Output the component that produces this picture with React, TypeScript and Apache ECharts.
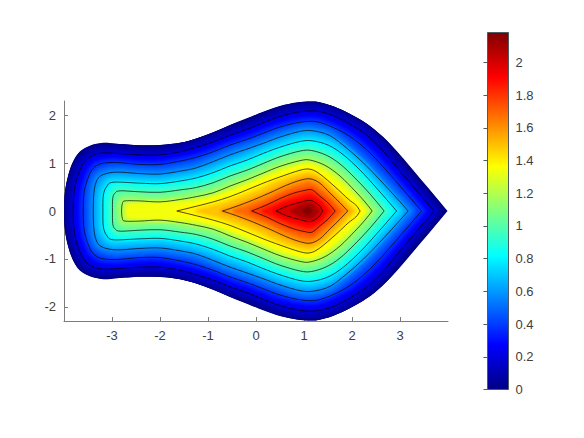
import React, { useEffect, useRef } from "react";
import * as echarts from "echarts";

const X_TICKS = [-3, -2, -1, 0, 1, 2, 3];
const Y_TICKS = [-2, -1, 0, 1, 2];
const BAR_TICKS = [0, 0.2, 0.4, 0.6, 0.8, 1, 1.2, 1.4, 1.6, 1.8, 2];
const FIELD_MAX = 2.183;
const JET_OFFSETS = [0, 0.125, 0.375, 0.625, 0.875, 1];
const JET_COLORS = [
  [0, 0, 132],
  [0, 0, 255],
  [0, 255, 255],
  [255, 255, 0],
  [255, 0, 0],
  [128, 0, 0],
];

// Upper halves of the contours; the domain is symmetric about y = 0.
const BOUNDARY = [[-4, 0], [-3.98, 0.4], [-3.91, 0.75], [-3.81, 1.03], [-3.67, 1.24], [-3.46, 1.36], [-3.18, 1.42], [-2.9, 1.4], [-2.42, 1.37], [-2.0, 1.375], [-1.58, 1.42], [-1.24, 1.51], [-0.89, 1.64], [-0.54, 1.79], [-0.19, 1.93], [0.15, 2.07], [0.5, 2.19], [0.85, 2.26], [1.13, 2.28], [1.3, 2.27], [1.61, 2.18], [1.96, 2.02], [2.31, 1.82], [2.65, 1.54], [3.0, 1.17], [3.35, 0.76], [3.69, 0.36], [3.99, 0]];
const C1 = [[-3.81, 0], [-3.79, 0.4], [-3.72, 0.71], [-3.6, 0.99], [-3.42, 1.15], [-3.21, 1.21], [-2.9, 1.2], [-2.42, 1.17], [-2, 1.17], [-1.58, 1.235], [-1.24, 1.33], [-0.89, 1.44], [-0.54, 1.58], [-0.19, 1.7], [0.15, 1.84], [0.5, 1.97], [0.92, 2.07], [1.26, 2.08], [1.61, 1.99], [1.96, 1.81], [2.31, 1.58], [2.65, 1.25], [3.0, 0.83], [3.35, 0.42], [3.71, 0]];
const C2 = [[-3.6, 0], [-3.58, 0.4], [-3.49, 0.71], [-3.39, 0.89], [-3.21, 0.99], [-2.9, 1.01], [-2.42, 0.97], [-2, 0.97], [-1.58, 1.04], [-1.24, 1.12], [-0.89, 1.235], [-0.54, 1.375], [-0.19, 1.49], [0.15, 1.62], [0.5, 1.75], [0.92, 1.85], [1.26, 1.86], [1.61, 1.74], [1.96, 1.55], [2.31, 1.27], [2.65, 0.92], [3.0, 0.52], [3.45, 0]];
const C3 = [[-3.39, 0], [-3.375, 0.4], [-3.31, 0.65], [-3.18, 0.76], [-2.9, 0.81], [-2.42, 0.78], [-2, 0.77], [-1.58, 0.83], [-1.24, 0.9], [-0.89, 1.03], [-0.54, 1.17], [-0.19, 1.29], [0.15, 1.41], [0.5, 1.54], [0.92, 1.66], [1.19, 1.67], [1.54, 1.57], [1.89, 1.31], [2.24, 1.0], [2.58, 0.65], [2.93, 0.27], [3.17, 0]];
const C4 = [[-3.19, 0], [-3.18, 0.33], [-3.11, 0.51], [-2.97, 0.6], [-2.42, 0.58], [-2, 0.57], [-1.58, 0.625], [-1.24, 0.69], [-0.89, 0.8], [-0.54, 0.94], [-0.19, 1.06], [0.15, 1.2], [0.5, 1.33], [0.92, 1.45], [1.19, 1.46], [1.51, 1.37], [1.82, 1.17], [2.17, 0.85], [2.51, 0.48], [2.93, 0]];
const C5 = [[-2.99, 0], [-2.985, 0.26], [-2.94, 0.37], [-2.83, 0.42], [-2.42, 0.4], [-2, 0.39], [-1.58, 0.44], [-1.24, 0.49], [-0.89, 0.59], [-0.54, 0.73], [-0.19, 0.85], [0.15, 0.99], [0.5, 1.13], [0.92, 1.25], [1.16, 1.26], [1.47, 1.16], [1.75, 0.98], [2.06, 0.69], [2.38, 0.35], [2.67, 0]];
const C6 = [[-2.8, 0], [-2.785, 0.15], [-2.73, 0.21], [-2.42, 0.21], [-2, 0.19], [-1.58, 0.24], [-1.24, 0.3], [-0.89, 0.38], [-0.54, 0.52], [-0.19, 0.65], [0.15, 0.79], [0.5, 0.93], [0.92, 1.05], [1.13, 1.06], [1.44, 0.95], [1.75, 0.73], [2.06, 0.42], [2.27, 0.19], [2.42, 0]];
const MID6 = [[-2.68, 0], [-2.63, 0.12], [-2.2, 0.14], [-1.7, 0.16], [-1.24, 0.2], [-0.89, 0.27], [-0.54, 0.4], [-0.19, 0.53], [0.15, 0.67], [0.5, 0.82], [0.92, 0.93], [1.13, 0.96], [1.4, 0.85], [1.7, 0.62], [2.0, 0.33], [2.28, 0]];
const C7 = [[-1.65, 0], [-1.24, 0.1], [-0.89, 0.19], [-0.54, 0.3], [-0.19, 0.44], [0.15, 0.58], [0.5, 0.71], [0.92, 0.85], [1.13, 0.87], [1.33, 0.77], [1.65, 0.5], [1.92, 0.25], [2.08, 0.125], [2.17, 0]];
const MID7 = [[-1.2, 0], [-0.7, 0.13], [-0.19, 0.31], [0.15, 0.45], [0.5, 0.61], [0.92, 0.74], [1.13, 0.77], [1.33, 0.67], [1.6, 0.44], [1.83, 0.21], [2.03, 0]];
const C8 = [[-0.7, 0], [-0.4, 0.1], [-0.06, 0.23], [0.29, 0.38], [0.64, 0.54], [0.92, 0.64], [1.13, 0.67], [1.33, 0.58], [1.54, 0.375], [1.75, 0.17], [1.91, 0]];
const MID8 = [[-0.42, 0], [-0.06, 0.12], [0.29, 0.26], [0.64, 0.42], [0.92, 0.52], [1.13, 0.555], [1.33, 0.44], [1.52, 0.27], [1.78, 0]];
const C9 = [[-0.09, 0], [0.22, 0.125], [0.5, 0.26], [0.78, 0.37], [1.02, 0.43], [1.17, 0.44], [1.33, 0.31], [1.5, 0.17], [1.65, 0]];
const MID9 = [[0.17, 0], [0.5, 0.14], [0.78, 0.25], [1.02, 0.32], [1.15, 0.33], [1.32, 0.22], [1.52, 0]];
const C10 = [[0.42, 0], [0.64, 0.1], [0.92, 0.18], [1.13, 0.22], [1.3, 0.13], [1.39, 0]];
const PEAK1 = [[0.75, 0], [0.95, 0.1], [1.1, 0.14], [1.2, 0.1], [1.28, 0]];
const PEAK2 = [[1.0, 0], [1.08, 0.06], [1.15, 0]];

const LINE_CONTOURS = [C1, C2, C3, C4, C5, C6, C7, C8, C9, C10];
const SHADE_CONTOURS = [BOUNDARY, C1, C2, C3, C4, C5, C6, MID6, C7, MID7, C8, MID8, C9, MID9, C10, PEAK1, PEAK2];
const SHADE_VALUES = [0, 0.198, 0.396, 0.595, 0.793, 0.991, 1.19, 1.34, 1.39, 1.49, 1.586, 1.685, 1.784, 1.885, 1.982, 2.1, 2.18];
const SHADE_SPREADS = [0, 10, 10, 10, 10, 10, 10, 5, 5, 5, 5, 5, 5, 5, 5, 4, 3];
const SHADE_TIPS = [false, false, false, false, false, false, false, false, true, true, true, true, true, true, true, true, true];

function jet(value: number) {
  const t = Math.min(1, Math.max(0, value / FIELD_MAX));
  let i = 0;
  while (i < JET_OFFSETS.length - 2 && t > JET_OFFSETS[i + 1]) i++;
  const f = (t - JET_OFFSETS[i]) / (JET_OFFSETS[i + 1] - JET_OFFSETS[i]);
  const c = JET_COLORS[i].map((a, k) => Math.round(a + (JET_COLORS[i + 1][k] - a) * f));
  return `rgb(${c[0]},${c[1]},${c[2]})`;
}

function contourPath(api: any, upper: number[][], leftTip: boolean) {
  const m = upper.length - 1;
  const loop = upper.concat(upper.slice(1, m).reverse().map((p) => [p[0], -p[1]]));
  const pts = loop.map((p) => api.coord(p));
  const n = pts.length;
  const isCorner = (i: number) => i === m || (leftTip && i === 0);
  const f = (v: number) => v.toFixed(2);
  let d = `M${f(pts[0][0])} ${f(pts[0][1])}`;
  for (let i = 0; i < n; i++) {
    const a = pts[i];
    const b = pts[(i + 1) % n];
    const prev = pts[(i - 1 + n) % n];
    const next = pts[(i + 2) % n];
    const ca = isCorner(i) ? [a[0] + (b[0] - a[0]) / 3, a[1] + (b[1] - a[1]) / 3] : [a[0] + (b[0] - prev[0]) / 6, a[1] + (b[1] - prev[1]) / 6];
    const j = (i + 1) % n;
    const cb = isCorner(j) ? [b[0] - (b[0] - a[0]) / 3, b[1] - (b[1] - a[1]) / 3] : [b[0] - (next[0] - a[0]) / 6, b[1] - (next[1] - a[1]) / 6];
    d += `C${f(ca[0])} ${f(ca[1])} ${f(cb[0])} ${f(cb[1])} ${f(b[0])} ${f(b[1])}`;
  }
  return d + "Z";
}

function renderShade(params: any, api: any) {
  const k = params.dataIndex;
  const pathData = contourPath(api, SHADE_CONTOURS[k], SHADE_TIPS[k]);
  const value = SHADE_VALUES[k];
  const below = k > 0 ? SHADE_VALUES[k - 1] : 0;
  const spread = SHADE_SPREADS[k];
  const children: any[] = [];
  for (let d = spread; d >= 1; d -= 1) {
    const v = value - ((value - below) * d) / Math.max(spread, 1);
    children.push({
      type: "path",
      shape: { pathData },
      style: { fill: "none", stroke: jet(v), lineWidth: 2 * d, lineJoin: "round" },
    });
  }
  children.push({ type: "path", shape: { pathData }, style: { fill: jet(value), stroke: "none" } });
  const group: any = { type: "group", children };
  if (k === 1) {
    // Only the first ring can reach past the domain's edge.
    group.clipPath = { type: "path", shape: { pathData: contourPath(api, BOUNDARY, false) } };
  }
  return group;
}

function renderLine(params: any, api: any) {
  const k = params.dataIndex;
  const tip = LINE_CONTOURS[k][0][0] > -2;
  return {
    type: "path",
    shape: { pathData: contourPath(api, LINE_CONTOURS[k], tip) },
    style: { fill: "none", stroke: "rgba(0,0,0,0.8)", lineWidth: 0.85, lineJoin: "round" },
  };
}

function renderColorBar(_params: any, api: any) {
  const a = api.coord([0, FIELD_MAX]);
  const b = api.coord([1, 0]);
  return {
    type: "rect",
    shape: { x: a[0], y: a[1], width: b[0] - a[0], height: b[1] - a[1] },
    style: {
      fill: new echarts.graphic.LinearGradient(0, 1, 0, 0, JET_OFFSETS.map((offset, i) => ({ offset, color: jet(offset * FIELD_MAX) }))),
      stroke: "#4d5a60",
      lineWidth: 1,
    },
  };
}

const AXIS_GREY = "#7d7d7d";
const LABEL = { color: "#404040", fontFamily: "Liberation Sans", fontSize: 13, hideOverlap: false };

export default function App() {
  const ref = useRef<HTMLDivElement>(null);
  useEffect(() => {
    const chart = echarts.init(ref.current!, undefined, { renderer: "svg" });
    chart.setOption({
      animation: false,
      backgroundColor: "#ffffff",
      grid: [
        { left: 64, top: 101, width: 384, height: 220 },
        { left: 487.5, top: 32.5, width: 21, height: 357 },
      ],
      xAxis: [
        {
          type: "value", gridIndex: 0, min: -4, max: 4, splitLine: { show: false },
          axisLine: { onZero: false, lineStyle: { color: AXIS_GREY } },
          axisTick: { inside: true, length: 4, lineStyle: { color: AXIS_GREY }, customValues: X_TICKS },
          axisLabel: { ...LABEL, margin: 8, customValues: X_TICKS, formatter: (v: number) => String(v) },
        },
        { type: "value", gridIndex: 1, min: 0, max: 1, show: false },
      ],
      yAxis: [
        {
          type: "value", gridIndex: 0, min: -2.2917, max: 2.2917, splitLine: { show: false },
          axisLine: { onZero: false, lineStyle: { color: AXIS_GREY } },
          axisTick: { inside: true, length: 4, lineStyle: { color: AXIS_GREY }, customValues: Y_TICKS },
          axisLabel: { ...LABEL, margin: 8, customValues: Y_TICKS, formatter: (v: number) => String(v) },
        },
        {
          type: "value", gridIndex: 1, min: 0, max: FIELD_MAX, position: "right", splitLine: { show: false },
          axisLine: { show: false },
          axisTick: { inside: true, length: 4, lineStyle: { color: "#4d5a60" }, customValues: BAR_TICKS },
          axisLabel: { ...LABEL, margin: 7, customValues: BAR_TICKS, formatter: (v: number) => String(v) },
        },
      ],
      series: [
        {
          type: "custom", xAxisIndex: 0, yAxisIndex: 0, silent: true, clip: false, z: 1,
          renderItem: renderShade, data: SHADE_CONTOURS.map((c) => c[0]),
        },
        {
          type: "custom", xAxisIndex: 0, yAxisIndex: 0, silent: true, clip: false, z: 2,
          renderItem: renderLine, data: LINE_CONTOURS.map((c) => c[0]),
        },
        {
          type: "custom", xAxisIndex: 1, yAxisIndex: 1, silent: true, clip: false, z: 1,
          renderItem: renderColorBar, data: [[0, FIELD_MAX]],
        },
      ],
    });
    return () => chart.dispose();
  }, []);
  return <div ref={ref} style={{ position: "absolute", left: 0, top: 0, width: 584, height: 438 }} />;
}
